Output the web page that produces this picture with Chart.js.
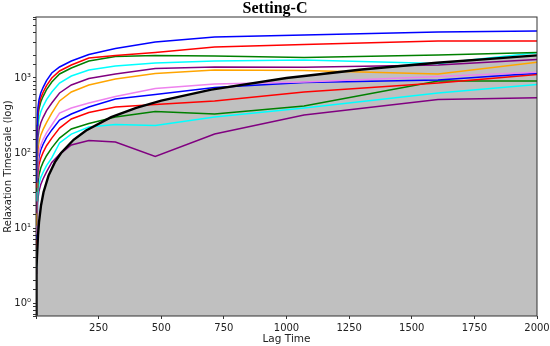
<!DOCTYPE html>
<html>
<head>
<meta charset="utf-8">
<script src="https://cdn.jsdelivr.net/npm/chart.js@4.4.1/dist/chart.umd.min.js"></script>
<style>
  body { margin: 0; background: #fff; }
</style>
</head>
<body>
<canvas id="chart" width="550" height="346"></canvas>
<script>
// lag times where the timescales were computed
const lagTimes = [1, 2, 4, 6, 8, 12, 19, 28, 42, 63, 94, 141, 211, 317, 476, 713, 1070, 1605, 2000];

// relaxation timescales, one list per process
const blue1   = [41, 105, 233, 326, 408, 513, 630, 746, 921, 1166, 1403, 1686, 2057, 2473, 3020, 3521, 3743, 4104, 4233];
const red1    = [35, 90, 200, 280, 350, 440, 540, 640, 790, 1000, 1240, 1490, 1848, 1995, 2188, 2590, 2797, 3113, 3113];
const green1  = [31, 80, 177, 248, 310, 389, 478, 566, 699, 885, 1131, 1360, 1686, 1935, 1995, 1965, 1876, 2027, 2188];
const cyan1   = [23, 59, 130, 182, 228, 286, 352, 417, 514, 651, 858, 1063, 1279, 1445, 1585, 1686, 1738, 1561, 2173];
const purple1 = [16, 42, 93, 130, 162, 204, 251, 297, 367, 464, 631, 807, 985, 1131, 1339, 1403, 1395, 1490, 1766];
const orange1 = [11, 29, 64, 90, 112, 141, 173, 205, 254, 341, 494, 651, 807, 970, 1148, 1279, 1259, 1131, 1620];
const violet1 = [8.3, 21, 47, 66, 83, 104, 127, 151, 186, 236, 341, 398, 464, 567, 724, 832, 885, 1047, 1191];
const blue2   = [7.1, 18, 41, 57, 71, 89, 110, 130, 160, 203, 275, 331, 411, 525, 603, 747, 871, 940, 1155];
const red2    = [5.5, 14, 32, 44, 55, 70, 85, 101, 125, 158, 215, 284, 347, 411, 443, 494, 651, 858, 1113];
const green2  = [4.1, 10.5, 23, 33, 41, 51, 63, 75, 92, 117, 158, 209, 247, 302, 357, 331, 424, 912, 912];
const cyan2   = [3, 7.8, 17, 24, 30, 38, 47, 55, 68, 86, 136, 179, 222, 240, 233, 302, 398, 631, 819];
const purple2 = [2.5, 6.4, 14, 20, 25, 31, 38, 45, 56, 75, 96, 128, 147, 140, 90, 179, 321, 517, 546];

// reference line: timescale equal to lag time
const refX = [0.7, 1, 2, 3, 5, 8, 12, 20, 30, 50, 75, 100, 150, 200, 300, 400, 500, 700, 1000, 1300, 1600, 2000];
const refY = [0.7, 1, 2, 3, 5, 8, 12, 20, 30, 50, 75, 100, 150, 200, 300, 400, 500, 700, 1000, 1300, 1600, 2000];

const seriesList = [blue1, red1, green1, cyan1, purple1, orange1, violet1, blue2, red2, green2, cyan2, purple2];
const colors = ['#0000ff', '#ff0000', '#008000', '#00ffff', '#800080', '#ffa500', '#ee82ee'];

const sup = ['\u2070', '\u00b9', '\u00b2', '\u00b3', '\u2074'];

// box around the plot, like matplotlib spines
const framePlugin = {
    id: 'frame',
    afterDatasetsDraw(chart) {
        const {ctx, chartArea: {left, top, right, bottom}} = chart;
        ctx.save();
        ctx.strokeStyle = '#333';
        ctx.lineWidth = 1;
        ctx.strokeRect(left, top, right - left, bottom - top);
        ctx.restore();
    }
};

Chart.defaults.font.family = 'DejaVu Sans';
Chart.defaults.font.size = 10;
Chart.defaults.color = '#222';

const datasets = [{
    data: refX.map((x, i) => ({x: x, y: refY[i]})),
    borderColor: '#000',
    borderWidth: 2.4,
    backgroundColor: '#c0c0c0',
    fill: 'start',
    pointRadius: 0,
    tension: 0
}];
seriesList.forEach((s, k) => {
    datasets.push({
        data: lagTimes.map((x, i) => ({x: x, y: s[i]})),
        borderColor: colors[k % colors.length],
        borderWidth: 1.5,
        fill: false,
        pointRadius: 0,
        tension: 0
    });
});

new Chart(document.getElementById('chart'), {
    type: 'line',
    data: {datasets: datasets},
    plugins: [framePlugin],
    options: {
        responsive: false,
        animation: false,
        devicePixelRatio: 1,
        layout: {padding: 0},
        plugins: {
            legend: {display: false},
            tooltip: {enabled: false},
            filler: {drawTime: 'beforeDatasetsDraw'},
            title: {
                display: true,
                text: 'Setting-C',
                color: '#000',
                font: {family: 'Liberation Serif', size: 16, weight: 'bold', lineHeight: 1},
                padding: {top: 1, bottom: 0}
            }
        },
        scales: {
            x: {
                type: 'linear',
                min: 0,
                max: 2000,
                border: {display: false},
                grid: {drawOnChartArea: false, tickLength: 3, color: '#333'},
                ticks: {
                    stepSize: 250,
                    padding: 3,
                    maxRotation: 0,
                    callback: v => v === 0 ? '' : String(v)
                },
                title: {display: true, text: 'Lag Time', font: {size: 10.5}, padding: {top: 0, bottom: 0}},
                afterFit: s => { s.height = 30; s.paddingRight = 13; s.paddingLeft = 0; }
            },
            y: {
                type: 'logarithmic',
                min: 0.671,
                max: 6505,
                border: {display: false},
                grid: {drawOnChartArea: false, tickLength: 3, color: '#333'},
                ticks: {
                    autoSkip: false,
                    padding: 2,
                    callback: v => {
                        const p = Math.log10(v);
                        if (Math.abs(p - Math.round(p)) < 1e-9) return '10' + sup[Math.round(p)];
                        return '';
                    }
                },
                title: {display: true, text: 'Relaxation Timescale (log)', padding: {top: 2, bottom: 0}},
                afterFit: s => { s.width = 36; }
            }
        }
    }
});
</script>
</body>
</html>
